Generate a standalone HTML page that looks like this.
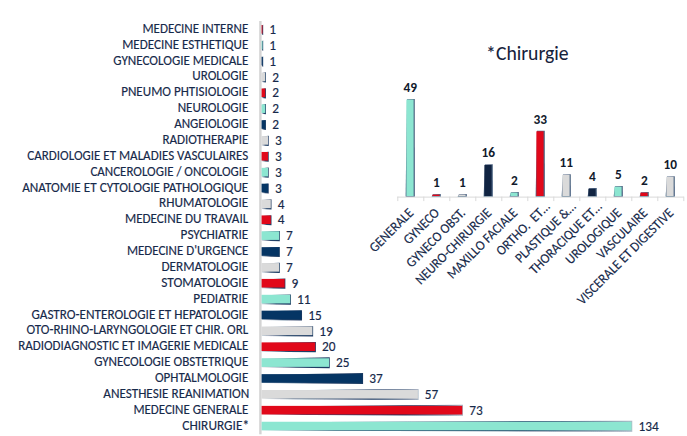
<!DOCTYPE html><html><head><meta charset="utf-8"><title>Chart</title><style>html,body{margin:0;padding:0;background:#fff;overflow:hidden}svg{display:block}text{font-family:Carlito, "Liberation Sans", sans-serif}</style></head><body>
<svg width="687" height="436" viewBox="0 0 687 436">
<defs><filter id="bl" x="-20%" y="-50%" width="140%" height="200%"><feGaussianBlur stdDeviation="0.35"/></filter><linearGradient id="lg" x1="0" y1="0" x2="1" y2="0"><stop offset="0" stop-color="#12305a" stop-opacity="0"/><stop offset="0.2" stop-color="#12305a" stop-opacity="0.85"/><stop offset="0.7" stop-color="#12305a" stop-opacity="1"/><stop offset="0.93" stop-color="#12305a" stop-opacity="0.55"/><stop offset="1" stop-color="#12305a" stop-opacity="0.35"/></linearGradient><linearGradient id="sg" x1="0" y1="0" x2="1" y2="0"><stop offset="0" stop-color="#12305a" stop-opacity="0.2"/><stop offset="0.5" stop-color="#12305a" stop-opacity="0.9"/><stop offset="1" stop-color="#12305a" stop-opacity="0.95"/></linearGradient></defs>
<rect width="687" height="436" fill="#fff"/>
<g font-size="13.33" fill="#16294a" stroke="#16294a" stroke-width="0.15">
<text x="248.29" y="32.85" text-anchor="end" textLength="105.83" lengthAdjust="spacingAndGlyphs">MEDECINE INTERNE</text>
<text x="248.29" y="48.72" text-anchor="end" textLength="126.12" lengthAdjust="spacingAndGlyphs">MEDECINE ESTHETIQUE</text>
<text x="248.29" y="64.59" text-anchor="end" textLength="134.97" lengthAdjust="spacingAndGlyphs">GYNECOLOGIE MEDICALE</text>
<text x="248.30" y="80.46" text-anchor="end" textLength="56.09" lengthAdjust="spacingAndGlyphs">UROLOGIE</text>
<text x="248.29" y="96.33" text-anchor="end" textLength="127.12" lengthAdjust="spacingAndGlyphs">PNEUMO PHTISIOLOGIE</text>
<text x="248.29" y="112.20" text-anchor="end" textLength="70.60" lengthAdjust="spacingAndGlyphs">NEUROLOGIE</text>
<text x="248.29" y="128.07" text-anchor="end" textLength="74.11" lengthAdjust="spacingAndGlyphs">ANGEIOLOGIE</text>
<text x="248.29" y="143.94" text-anchor="end" textLength="85.91" lengthAdjust="spacingAndGlyphs">RADIOTHERAPIE</text>
<text x="248.29" y="159.81" text-anchor="end" textLength="221.01" lengthAdjust="spacingAndGlyphs">CARDIOLOGIE ET MALADIES VASCULAIRES</text>
<text x="248.29" y="175.68" text-anchor="end" textLength="157.90" lengthAdjust="spacingAndGlyphs">CANCEROLOGIE / ONCOLOGIE</text>
<text x="248.30" y="191.55" text-anchor="end" textLength="226.11" lengthAdjust="spacingAndGlyphs">ANATOMIE ET CYTOLOGIE PATHOLOGIQUE</text>
<text x="248.30" y="207.42" text-anchor="end" textLength="89.21" lengthAdjust="spacingAndGlyphs">RHUMATOLOGIE</text>
<text x="248.30" y="223.29" text-anchor="end" textLength="123.38" lengthAdjust="spacingAndGlyphs">MEDECINE DU TRAVAIL</text>
<text x="248.30" y="239.16" text-anchor="end" textLength="67.78" lengthAdjust="spacingAndGlyphs">PSYCHIATRIE</text>
<text x="248.29" y="255.03" text-anchor="end" textLength="121.36" lengthAdjust="spacingAndGlyphs">MEDECINE D'URGENCE</text>
<text x="248.30" y="270.90" text-anchor="end" textLength="86.87" lengthAdjust="spacingAndGlyphs">DERMATOLOGIE</text>
<text x="248.30" y="286.77" text-anchor="end" textLength="87.12" lengthAdjust="spacingAndGlyphs">STOMATOLOGIE</text>
<text x="248.30" y="302.64" text-anchor="end" textLength="54.93" lengthAdjust="spacingAndGlyphs">PEDIATRIE</text>
<text x="248.30" y="318.51" text-anchor="end" textLength="216.88" lengthAdjust="spacingAndGlyphs">GASTRO-ENTEROLOGIE ET HEPATOLOGIE</text>
<text x="248.29" y="334.38" text-anchor="end" textLength="221.72" lengthAdjust="spacingAndGlyphs">OTO-RHINO-LARYNGOLOGIE ET CHIR. ORL</text>
<text x="248.29" y="350.25" text-anchor="end" textLength="230.13" lengthAdjust="spacingAndGlyphs">RADIODIAGNOSTIC ET IMAGERIE MEDICALE</text>
<text x="248.29" y="366.12" text-anchor="end" textLength="154.12" lengthAdjust="spacingAndGlyphs">GYNECOLOGIE OBSTETRIQUE</text>
<text x="248.29" y="381.99" text-anchor="end" textLength="93.41" lengthAdjust="spacingAndGlyphs">OPHTALMOLOGIE</text>
<text x="249.29" y="397.86" text-anchor="end" textLength="146.02" lengthAdjust="spacingAndGlyphs">ANESTHESIE REANIMATION</text>
<text x="248.29" y="413.73" text-anchor="end" textLength="114.91" lengthAdjust="spacingAndGlyphs">MEDECINE GENERALE</text>
<text x="249.10" y="429.60" text-anchor="end" textLength="66.80" lengthAdjust="spacingAndGlyphs">CHIRURGIE*</text>
</g>
<rect x="259.2" y="21" width="2.4" height="413.3" fill="#d4d4d4"/>
<polygon points="261.90,25.50 263.17,24.70 263.17,34.90 261.90,34.40" fill="url(#sg)" filter="url(#bl)"/>
<rect x="261.60" y="25.00" width="0.88" height="8.60" fill="#e1081a"/>
<polygon points="261.90,41.37 263.17,40.57 263.17,50.77 261.90,50.27" fill="url(#sg)" filter="url(#bl)"/>
<rect x="261.60" y="40.87" width="0.88" height="8.60" fill="#8ce6d1"/>
<polygon points="261.90,57.24 263.17,56.44 263.17,66.64 261.90,66.14" fill="url(#sg)" filter="url(#bl)"/>
<rect x="261.60" y="56.74" width="0.88" height="8.60" fill="#053564"/>
<polygon points="261.90,73.11 265.95,72.31 265.95,82.51 261.90,82.01" fill="url(#sg)" filter="url(#bl)"/>
<rect x="261.60" y="72.61" width="3.65" height="8.60" fill="#dadada"/>
<polygon points="261.90,88.98 265.95,88.18 265.95,98.38 261.90,97.88" fill="url(#sg)" filter="url(#bl)"/>
<rect x="261.60" y="88.48" width="3.65" height="8.60" fill="#e1081a"/>
<polygon points="261.90,104.85 265.95,104.05 265.95,114.25 261.90,113.75" fill="url(#sg)" filter="url(#bl)"/>
<rect x="261.60" y="104.35" width="3.65" height="8.60" fill="#8ce6d1"/>
<polygon points="261.90,120.72 265.95,119.92 265.95,130.12 261.90,129.62" fill="url(#sg)" filter="url(#bl)"/>
<rect x="261.60" y="120.22" width="3.65" height="8.60" fill="#053564"/>
<polygon points="261.90,136.59 268.72,135.79 268.72,145.99 261.90,145.49" fill="url(#sg)" filter="url(#bl)"/>
<rect x="261.60" y="136.09" width="6.42" height="8.60" fill="#dadada"/>
<polygon points="261.90,152.46 268.72,151.66 268.72,161.86 261.90,161.36" fill="url(#sg)" filter="url(#bl)"/>
<rect x="261.60" y="151.96" width="6.42" height="8.60" fill="#e1081a"/>
<polygon points="261.90,168.33 268.72,167.53 268.72,177.73 261.90,177.23" fill="url(#sg)" filter="url(#bl)"/>
<rect x="261.60" y="167.83" width="6.42" height="8.60" fill="#8ce6d1"/>
<polygon points="261.90,184.20 268.72,183.40 268.72,193.60 261.90,193.10" fill="url(#sg)" filter="url(#bl)"/>
<rect x="261.60" y="183.70" width="6.42" height="8.60" fill="#053564"/>
<polygon points="261.90,200.07 271.50,199.27 271.50,209.47 261.90,208.97" fill="url(#sg)" filter="url(#bl)"/>
<rect x="261.60" y="199.57" width="9.20" height="8.60" fill="#dadada"/>
<polygon points="261.90,215.94 271.50,215.14 271.50,225.34 261.90,224.84" fill="url(#sg)" filter="url(#bl)"/>
<rect x="261.60" y="215.44" width="9.20" height="8.60" fill="#e1081a"/>
<polygon points="261.90,231.81 279.82,231.01 279.82,241.21 261.90,240.71" fill="url(#sg)" filter="url(#bl)"/>
<rect x="261.60" y="231.31" width="17.53" height="8.60" fill="#8ce6d1"/>
<polygon points="261.90,247.68 279.82,246.88 279.82,257.08 261.90,256.58" fill="url(#sg)" filter="url(#bl)"/>
<rect x="261.60" y="247.18" width="17.53" height="8.60" fill="#053564"/>
<polygon points="261.90,263.55 279.82,262.75 279.82,272.95 261.90,272.45" fill="url(#sg)" filter="url(#bl)"/>
<rect x="261.60" y="263.05" width="17.53" height="8.60" fill="#dadada"/>
<polygon points="261.90,279.42 285.38,278.62 285.38,288.82 261.90,288.32" fill="url(#sg)" filter="url(#bl)"/>
<rect x="261.60" y="278.92" width="23.07" height="8.60" fill="#e1081a"/>
<polygon points="261.90,295.29 290.92,294.49 290.92,304.69 261.90,304.19" fill="url(#sg)" filter="url(#bl)"/>
<rect x="261.60" y="294.79" width="28.62" height="8.60" fill="#8ce6d1"/>
<polygon points="261.90,311.16 302.02,310.36 302.02,320.56 261.90,320.06" fill="url(#sg)" filter="url(#bl)"/>
<rect x="261.60" y="310.66" width="39.73" height="8.60" fill="#053564"/>
<polygon points="261.90,327.03 313.12,326.23 313.12,336.43 261.90,335.93" fill="url(#sg)" filter="url(#bl)"/>
<rect x="261.60" y="326.53" width="50.83" height="8.60" fill="#dadada"/>
<polygon points="261.90,342.90 315.90,342.10 315.90,352.30 261.90,351.80" fill="url(#sg)" filter="url(#bl)"/>
<rect x="261.60" y="342.40" width="53.60" height="8.60" fill="#e1081a"/>
<polygon points="261.90,358.77 329.77,357.17 329.77,368.17 261.90,367.17" fill="url(#sg)" filter="url(#bl)"/>
<rect x="261.60" y="358.27" width="67.47" height="8.60" fill="#8ce6d1"/>
<polygon points="261.90,374.64 363.07,373.04 363.07,384.04 261.90,383.04" fill="url(#sg)" filter="url(#bl)"/>
<rect x="261.60" y="374.14" width="100.77" height="8.60" fill="#053564"/>
<polygon points="261.90,390.51 418.57,388.91 418.57,399.91 261.90,398.91" fill="url(#lg)" filter="url(#bl)"/>
<rect x="261.60" y="390.01" width="156.27" height="8.60" fill="#dadada"/>
<polygon points="261.90,406.38 462.97,404.78 462.97,415.78 261.90,414.78" fill="url(#lg)" filter="url(#bl)"/>
<rect x="261.60" y="405.88" width="200.67" height="8.60" fill="#e1081a"/>
<polygon points="261.90,422.25 632.25,420.65 632.25,431.65 261.90,430.65" fill="url(#lg)" filter="url(#bl)"/>
<rect x="261.60" y="421.75" width="369.95" height="8.60" fill="#8ce6d1"/>
<g font-size="13.33" fill="#16294a" stroke="#16294a" stroke-width="0.15">
<text x="269.37" y="34.00">1</text>
<text x="269.37" y="49.87">1</text>
<text x="269.37" y="65.74">1</text>
<text x="272.15" y="81.61">2</text>
<text x="272.15" y="97.48">2</text>
<text x="272.15" y="113.35">2</text>
<text x="272.15" y="129.22">2</text>
<text x="274.92" y="145.09">3</text>
<text x="274.92" y="160.96">3</text>
<text x="274.92" y="176.83">3</text>
<text x="274.92" y="192.70">3</text>
<text x="277.70" y="208.57">4</text>
<text x="277.70" y="224.44">4</text>
<text x="286.02" y="240.31">7</text>
<text x="286.02" y="256.18">7</text>
<text x="286.02" y="272.05">7</text>
<text x="291.57" y="287.92">9</text>
<text x="297.12" y="303.79">11</text>
<text x="308.22" y="319.66">15</text>
<text x="319.32" y="335.53">19</text>
<text x="322.10" y="351.40">20</text>
<text x="335.97" y="367.27">25</text>
<text x="369.27" y="383.14">37</text>
<text x="424.77" y="399.01">57</text>
<text x="469.17" y="414.88">73</text>
<text x="638.45" y="430.75">134</text>
</g>
<text x="486.1" y="60.1" font-size="19.7" textLength="82.56" lengthAdjust="spacingAndGlyphs" fill="#15213a" stroke="#15213a" stroke-width="0.05">*Chirurgie</text>
<rect x="397.30" y="196.60" width="286.50" height="1" fill="#d9d9d9"/>
<rect x="397.30" y="196.60" width="1" height="4.5" fill="#d9d9d9"/>
<rect x="423.30" y="196.60" width="1" height="4.5" fill="#d9d9d9"/>
<rect x="449.30" y="196.60" width="1" height="4.5" fill="#d9d9d9"/>
<rect x="475.30" y="196.60" width="1" height="4.5" fill="#d9d9d9"/>
<rect x="501.30" y="196.60" width="1" height="4.5" fill="#d9d9d9"/>
<rect x="527.30" y="196.60" width="1" height="4.5" fill="#d9d9d9"/>
<rect x="553.30" y="196.60" width="1" height="4.5" fill="#d9d9d9"/>
<rect x="579.30" y="196.60" width="1" height="4.5" fill="#d9d9d9"/>
<rect x="605.30" y="196.60" width="1" height="4.5" fill="#d9d9d9"/>
<rect x="631.30" y="196.60" width="1" height="4.5" fill="#d9d9d9"/>
<rect x="657.30" y="196.60" width="1" height="4.5" fill="#d9d9d9"/>
<rect x="683.30" y="196.60" width="1" height="4.5" fill="#d9d9d9"/>
<polygon points="407.00,99.18 414.80,98.98 414.90,196.60 405.60,196.60" fill="#12305a" fill-opacity="0.75" filter="url(#bl)"/>
<rect x="406.40" y="99.58" width="7.20" height="96.42" fill="#8ce6d1"/>
<text x="410.30" y="91.98" text-anchor="middle" font-size="13.33" font-weight="bold" fill="#111a2c">49</text>
<text transform="translate(411.10 210.60) rotate(-45)" y="4.36" text-anchor="end" font-size="13.8" textLength="55.69" lengthAdjust="spacingAndGlyphs" fill="#16294a" stroke="#16294a" stroke-width="0.15">GENERALE</text>
<polygon points="433.00,194.22 440.80,194.02 440.90,196.60 431.60,196.60" fill="#12305a" fill-opacity="0.75" filter="url(#bl)"/>
<rect x="432.40" y="194.62" width="7.20" height="1.38" fill="#e1081a"/>
<text x="436.30" y="187.02" text-anchor="middle" font-size="13.33" font-weight="bold" fill="#111a2c">1</text>
<text transform="translate(437.10 210.60) rotate(-45)" y="4.36" text-anchor="end" font-size="13.8" textLength="44.36" lengthAdjust="spacingAndGlyphs" fill="#16294a" stroke="#16294a" stroke-width="0.15">GYNECO</text>
<polygon points="459.00,194.22 466.80,194.02 466.90,196.60 457.60,196.60" fill="#12305a" fill-opacity="0.75" filter="url(#bl)"/>
<rect x="458.40" y="194.62" width="7.20" height="1.38" fill="#dadada"/>
<text x="462.30" y="187.02" text-anchor="middle" font-size="13.33" font-weight="bold" fill="#111a2c">1</text>
<text transform="translate(463.10 210.60) rotate(-45)" y="4.36" text-anchor="end" font-size="13.8" textLength="77.19" lengthAdjust="spacingAndGlyphs" fill="#16294a" stroke="#16294a" stroke-width="0.15">GYNECO OBST.</text>
<polygon points="485.00,164.52 492.80,164.32 492.90,196.60 483.60,196.60" fill="#12305a" fill-opacity="0.75" filter="url(#bl)"/>
<rect x="484.40" y="164.92" width="7.20" height="31.08" fill="#112442"/>
<text x="488.30" y="157.32" text-anchor="middle" font-size="13.33" font-weight="bold" fill="#111a2c">16</text>
<text transform="translate(489.10 210.60) rotate(-45)" y="4.36" text-anchor="end" font-size="13.8" textLength="101.08" lengthAdjust="spacingAndGlyphs" fill="#16294a" stroke="#16294a" stroke-width="0.15">NEURO-CHIRURGIE</text>
<polygon points="511.00,192.24 518.80,192.04 518.90,196.60 509.60,196.60" fill="#12305a" fill-opacity="0.75" filter="url(#bl)"/>
<rect x="510.40" y="192.64" width="7.20" height="3.36" fill="#8ce6d1"/>
<text x="514.30" y="185.04" text-anchor="middle" font-size="13.33" font-weight="bold" fill="#111a2c">2</text>
<text transform="translate(515.10 210.60) rotate(-45)" y="4.36" text-anchor="end" font-size="13.8" textLength="93.08" lengthAdjust="spacingAndGlyphs" fill="#16294a" stroke="#16294a" stroke-width="0.15">MAXILLO FACIALE</text>
<polygon points="537.00,130.86 544.80,130.66 544.90,196.60 535.60,196.60" fill="#12305a" fill-opacity="0.75" filter="url(#bl)"/>
<rect x="536.40" y="131.26" width="7.20" height="64.74" fill="#e1081a"/>
<text x="540.30" y="123.66" text-anchor="middle" font-size="13.33" font-weight="bold" fill="#111a2c">33</text>
<text transform="translate(547.46 204.24) rotate(-45)" y="4.36" text-anchor="end" font-size="13.8" textLength="69.22" lengthAdjust="spacingAndGlyphs" fill="#16294a" stroke="#16294a" stroke-width="0.15">ORTHO.&#160; ET…</text>
<polygon points="563.00,174.42 570.80,174.22 570.90,196.60 561.60,196.60" fill="#12305a" fill-opacity="0.75" filter="url(#bl)"/>
<rect x="562.40" y="174.82" width="7.20" height="21.18" fill="#dadada"/>
<text x="566.30" y="167.22" text-anchor="middle" font-size="13.33" font-weight="bold" fill="#111a2c">11</text>
<text transform="translate(573.46 204.24) rotate(-45)" y="4.36" text-anchor="end" font-size="13.8" textLength="79.42" lengthAdjust="spacingAndGlyphs" fill="#16294a" stroke="#16294a" stroke-width="0.15">PLASTIQUE &amp;…</text>
<polygon points="589.00,188.28 596.80,188.08 596.90,196.60 587.60,196.60" fill="#12305a" fill-opacity="0.75" filter="url(#bl)"/>
<rect x="588.40" y="188.68" width="7.20" height="7.32" fill="#112442"/>
<text x="592.30" y="181.08" text-anchor="middle" font-size="13.33" font-weight="bold" fill="#111a2c">4</text>
<text transform="translate(599.46 204.24) rotate(-45)" y="4.36" text-anchor="end" font-size="13.8" textLength="95.78" lengthAdjust="spacingAndGlyphs" fill="#16294a" stroke="#16294a" stroke-width="0.15">THORACIQUE ET…</text>
<polygon points="615.00,186.30 622.80,186.10 622.90,196.60 613.60,196.60" fill="#12305a" fill-opacity="0.75" filter="url(#bl)"/>
<rect x="614.40" y="186.70" width="7.20" height="9.30" fill="#8ce6d1"/>
<text x="618.30" y="179.10" text-anchor="middle" font-size="13.33" font-weight="bold" fill="#111a2c">5</text>
<text transform="translate(619.10 210.60) rotate(-45)" y="4.36" text-anchor="end" font-size="13.8" textLength="72.59" lengthAdjust="spacingAndGlyphs" fill="#16294a" stroke="#16294a" stroke-width="0.15">UROLOGIQUE</text>
<polygon points="641.00,192.24 648.80,192.04 648.90,196.60 639.60,196.60" fill="#12305a" fill-opacity="0.75" filter="url(#bl)"/>
<rect x="640.40" y="192.64" width="7.20" height="3.36" fill="#e1081a"/>
<text x="644.30" y="185.04" text-anchor="middle" font-size="13.33" font-weight="bold" fill="#111a2c">2</text>
<text transform="translate(645.10 210.60) rotate(-45)" y="4.36" text-anchor="end" font-size="13.8" textLength="65.20" lengthAdjust="spacingAndGlyphs" fill="#16294a" stroke="#16294a" stroke-width="0.15">VASCULAIRE</text>
<polygon points="667.00,176.40 674.80,176.20 674.90,196.60 665.60,196.60" fill="#12305a" fill-opacity="0.75" filter="url(#bl)"/>
<rect x="666.40" y="176.80" width="7.20" height="19.20" fill="#dadada"/>
<text x="670.30" y="169.20" text-anchor="middle" font-size="13.33" font-weight="bold" fill="#111a2c">10</text>
<text transform="translate(671.10 210.60) rotate(-45)" y="4.36" text-anchor="end" font-size="13.8" textLength="129.78" lengthAdjust="spacingAndGlyphs" fill="#16294a" stroke="#16294a" stroke-width="0.15">VISCERALE ET DIGESTIVE</text>
</svg></body></html>
